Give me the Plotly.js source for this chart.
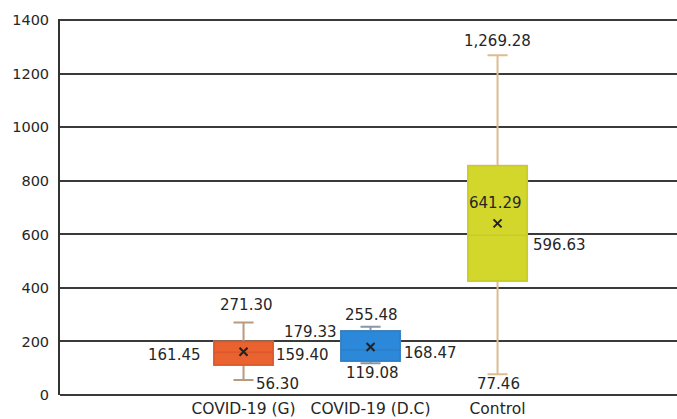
<!DOCTYPE html>
<html>
<head>
<meta charset="utf-8">
<script src="https://cdn.plot.ly/plotly-3.0.1.min.js"></script>
<style>
html,body{margin:0;padding:0;background:#fff;}
#chart{width:677px;height:419px;}
</style>
</head>
<body>
<div id="chart"></div>
<script>
// ---- data ----
const categories = ['COVID-19 (G)', 'COVID-19 (D.C)', 'Control'];
const lowerFence = [56.30, 119.08, 77.46];
const q1 = [112, 127, 426];
const median = [159.40, 168.47, 596.63];
const q3 = [200, 239, 857];
const upperFence = [271.30, 255.48, 1269.28];
const mean = [161.45, 179.33, 641.29];
const yTicks = [0, 200, 400, 600, 800, 1000, 1200, 1400];

// ---- styles ----
const fillColors = ['#E9622F', '#2C88D8', '#D3D72B'];
const outlineColors = ['#D9592A', '#2A80CC', '#C8CC28'];
const whiskerColors = ['#B99A7E', '#8A96A3', '#DDBC8E'];
const textColor = '#262626';
const FONT = 'DejaVu Sans, Verdana, sans-serif';
const BOXW = 0.465;

const traces = [];
categories.forEach((c, i) => {
  // whiskers layer
  traces.push({
    type: 'box', x: [c], q1: [q1[i]], median: [median[i]], q3: [q3[i]],
    lowerfence: [lowerFence[i]], upperfence: [upperFence[i]],
    width: BOXW, whiskerwidth: 0.34,
    line: {color: whiskerColors[i], width: 2},
    fillcolor: fillColors[i], boxpoints: false, showlegend: false, hoverinfo: 'skip'
  });
  // box layer
  traces.push({
    type: 'box', x: [c], q1: [q1[i]], median: [median[i]], q3: [q3[i]],
    lowerfence: [q1[i]], upperfence: [q3[i]],
    width: BOXW, whiskerwidth: 0,
    line: {color: outlineColors[i], width: 1.5},
    fillcolor: fillColors[i], boxpoints: false, showlegend: false, hoverinfo: 'skip'
  });
});
// mean markers
traces.push({
  type: 'scatter', mode: 'markers', x: categories, y: mean,
  marker: {symbol: 'x-thin', size: 8, line: {width: 2, color: '#222'}, color: '#222'},
  showlegend: false, hoverinfo: 'skip'
});

function fmt(v) {
  return v.toLocaleString('en-US', {minimumFractionDigits: 2, maximumFractionDigits: 2});
}

// label placement (pixel offsets)
const placements = [
  { up: [3, 17, 'center'], low: [10, -4, 'left'], mean: [-41, -3, 'right'], med: [30, -3, 'left'] },
  { up: [1, 12, 'center'], low: [2, -10, 'center'], mean: [-32, 15, 'right'], med: [31, -3, 'left'] },
  { up: [0, 14, 'center'], low: [1, -10, 'center'], mean: [-2, 20, 'center'], med: [33, -10, 'left'] }
];
const annotations = [];
categories.forEach((c, i) => {
  const p = placements[i];
  const add = (y, cfg) => annotations.push({
    x: c, y: y, xref: 'x', yref: 'y', text: fmt(y), showarrow: false,
    xshift: cfg[0], yshift: cfg[1], xanchor: cfg[2], yanchor: 'middle',
    font: {family: FONT, size: 15, color: textColor}
  });
  add(upperFence[i], p.up);
  add(lowerFence[i], p.low);
  add(mean[i], p.mean);
  add(median[i], p.med);
});

const layout = {
  width: 677, height: 419,
  margin: {l: 60, r: 0, t: 19, b: 24, pad: 0},
  paper_bgcolor: '#fff', plot_bgcolor: '#fff',
  boxmode: 'overlay',
  font: {family: FONT, size: 14.5, color: textColor},
  xaxis: {
    type: 'category', categoryorder: 'array', categoryarray: categories,
    range: [-1.445, 3.413], showgrid: false, zeroline: false, showline: false,
    ticks: '', tickfont: {family: FONT, size: 15.5, color: textColor}, ticklabelstandoff: 2
  },
  yaxis: {
    range: [0, 1405], tickvals: yTicks, ticktext: yTicks.map(String),
    showgrid: true, gridcolor: '#3a3a3a', gridwidth: 2,
    zeroline: true, zerolinecolor: '#3a3a3a', zerolinewidth: 2,
    showline: true, linecolor: '#333', linewidth: 2,
    ticks: '', ticklabelstandoff: 6,
    tickfont: {family: FONT, size: 14.5, color: textColor}
  },
  annotations: annotations
};

Plotly.newPlot('chart', traces, layout, {displayModeBar: false, staticPlot: true});
</script>
</body>
</html>
